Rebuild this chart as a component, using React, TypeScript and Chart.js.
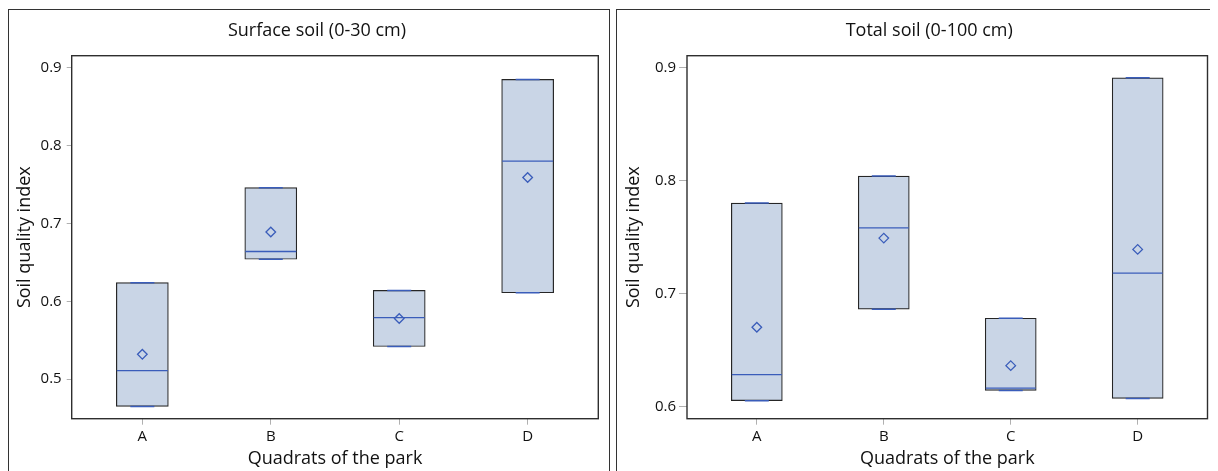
import React, { useEffect, useRef } from "react";
import { Chart, registerables } from "chart.js";

Chart.register(...registerables);

const FONT = "'Open Sans', 'Noto Sans', sans-serif";

const categories = ["A", "B", "C", "D"];
const categoryPositions = [0, 1, 2, 3];

// Surface soil (0-30 cm)
const surfaceQ1 = [0.465, 0.654, 0.542, 0.611];
const surfaceQ3 = [0.624, 0.746, 0.614, 0.885];
const surfaceMedian = [0.511, 0.664, 0.579, 0.78];
const surfaceMean = [0.532, 0.689, 0.578, 0.759];
const surfaceTicks = [0.5, 0.6, 0.7, 0.8, 0.9];

// Total soil (0-100 cm)
const totalQ1 = [0.605, 0.686, 0.614, 0.607];
const totalQ3 = [0.78, 0.804, 0.678, 0.891];
const totalMedian = [0.628, 0.758, 0.616, 0.718];
const totalMean = [0.67, 0.749, 0.636, 0.739];
const totalTicks = [0.6, 0.7, 0.8, 0.9];

const BOX_FILL = "#C9D5E6";
const BOX_EDGE = "#262626";
const BLUE = "#3A5DBA";
const TITLE_SIZE = 18;
const TICK_SIZE = 15;

const framePlugin = {
  id: "frame",
  afterDraw(chart: any) {
    const { ctx, chartArea } = chart;
    const { left, top, right, bottom } = chartArea;
    ctx.save();
    ctx.strokeStyle = "#2e2e2e";
    ctx.lineWidth = 1.4;
    ctx.strokeRect(left, top, right - left, bottom - top);
    ctx.restore();
  },
};

const panelTitlePlugin = {
  id: "panelTitle",
  afterDraw(chart: any, _args: any, opts: any) {
    const { ctx, chartArea } = chart;
    ctx.save();
    ctx.font = `${TITLE_SIZE}px ${FONT}`;
    ctx.fillStyle = "#111";
    ctx.textAlign = "center";
    ctx.textBaseline = "middle";
    ctx.fillText(opts.text, (chartArea.left + chartArea.right) / 2 + opts.dx, opts.y);
    ctx.restore();
  },
};

type PanelProps = {
  title: string;
  q1: number[];
  q3: number[];
  median: number[];
  mean: number[];
  yTicks: number[];
  yMin: number;
  yMax: number;
  width: number;
  height: number;
  yAxisWidth: number;
  padRight: number;
  padTop: number;
  xAxisHeight: number;
  yTickLength: number;
  yTickPadding: number;
  yTitlePad: number;
  boxWidth: number;
  marginLeft: number;
};

function BoxPanel(p: PanelProps) {
  const ref = useRef<HTMLCanvasElement | null>(null);

  useEffect(() => {
    if (!ref.current) return;
    const pts = (vals: number[]) => categoryPositions.map((x, i) => ({ x, y: vals[i] }));
    const chart = new Chart(ref.current, {
      type: "bar",
      data: {
        datasets: [
          {
            type: "scatter",
            label: "Mean",
            data: pts(p.mean),
            pointStyle: "rectRot",
            radius: 4.8,
            borderColor: BLUE,
            backgroundColor: "rgba(0,0,0,0)",
            borderWidth: 1.3,
            order: 0,
          } as any,
          {
            type: "scatter",
            label: "Median",
            data: pts(p.median),
            pointStyle: "line",
            radius: p.boxWidth / 2 - 0.5,
            borderColor: BLUE,
            borderWidth: 1.3,
            order: 1,
          } as any,
          {
            type: "scatter",
            label: "Upper whisker",
            data: pts(p.q3),
            pointStyle: "line",
            radius: 12,
            borderColor: BLUE,
            borderWidth: 1.5,
            order: 1,
          } as any,
          {
            type: "scatter",
            label: "Lower whisker",
            data: pts(p.q1),
            pointStyle: "line",
            radius: 12,
            borderColor: BLUE,
            borderWidth: 1.5,
            order: 1,
          } as any,
          {
            type: "bar",
            label: "IQR box",
            data: categoryPositions.map((x, i) => ({ x, y: [p.q1[i], p.q3[i]] })),
            backgroundColor: BOX_FILL,
            borderColor: BOX_EDGE,
            borderWidth: 1.2,
            borderSkipped: false,
            barThickness: p.boxWidth,
            order: 5,
          } as any,
        ],
      },
      options: {
        animation: false,
        responsive: false,
        maintainAspectRatio: false,
        events: [],
        layout: { autoPadding: false, padding: { left: 0, right: p.padRight, top: p.padTop, bottom: 0 } },
        plugins: {
          legend: { display: false },
          tooltip: { enabled: false },
          title: { display: false },
          panelTitle: { text: p.title, dx: -18, y: 21 },
        } as any,
        scales: {
          x: {
            type: "linear",
            min: -0.55,
            max: 3.55,
            offset: false,
            afterBuildTicks: (s: any) => {
              s.ticks = categoryPositions.map((v) => ({ value: v }));
            },
            afterFit: (s: any) => {
              s.height = p.xAxisHeight;
            },
            ticks: {
              callback: (v: any) => categories[Math.round(Number(v))] ?? "",
              font: { family: FONT, size: TICK_SIZE },
              color: "#111",
              padding: 3,
              maxRotation: 0,
              autoSkip: false,
            },
            grid: { offset: false, drawOnChartArea: false, drawTicks: true, tickLength: 6, color: "#b0b0b0" },
            border: { display: false },
            title: {
              display: true,
              text: "Quadrats of the park",
              font: { family: FONT, size: TITLE_SIZE },
              color: "#111",
              padding: { top: 0, bottom: 1.2 },
            },
          },
          y: {
            type: "linear",
            min: p.yMin,
            max: p.yMax,
            afterBuildTicks: (s: any) => {
              s.ticks = p.yTicks.map((v) => ({ value: v }));
            },
            afterFit: (s: any) => {
              s.width = p.yAxisWidth;
            },
            ticks: {
              callback: (v: any) => Number(v).toFixed(1),
              font: { family: FONT, size: TICK_SIZE },
              color: "#111",
              padding: p.yTickPadding,
            },
            grid: { drawOnChartArea: false, drawTicks: true, tickLength: p.yTickLength, color: "#b0b0b0" },
            border: { display: false },
            title: {
              display: true,
              text: "Soil quality index",
              font: { family: FONT, size: TITLE_SIZE },
              color: "#111",
              padding: { top: p.yTitlePad, bottom: 0 },
            },
          },
        },
      },
      plugins: [framePlugin, panelTitlePlugin],
    });
    return () => chart.destroy();
  }, []);

  return (
    <div
      style={{
        width: p.width,
        height: p.height,
        marginLeft: p.marginLeft,
        borderTop: "1px solid #333",
        borderLeft: "1px solid #333",
        borderRight: "1px solid #333",
        flex: "none",
      }}
    >
      <canvas ref={ref} width={p.width} height={p.height} style={{ display: "block", width: p.width, height: p.height }} />
    </div>
  );
}

export default function App() {
  useEffect(() => {
    document.documentElement.style.overflow = "hidden";
    document.body.style.overflow = "hidden";
  }, []);
  return (
    <div style={{ display: "flex", paddingTop: 1, background: "#fff" }}>
      <BoxPanel
        title="Surface soil (0-30 cm)"
        q1={surfaceQ1}
        q3={surfaceQ3}
        median={surfaceMedian}
        mean={surfaceMean}
        yTicks={surfaceTicks}
        yMin={0.4493}
        yMax={0.9154}
        width={600}
        height={461}
        yAxisWidth={62.7}
        padRight={10.7}
        padTop={45.7}
        xAxisHeight={52.3}
        yTickLength={5}
        yTickPadding={5}
        yTitlePad={4.7}
        boxWidth={52}
        marginLeft={0}
      />
      <BoxPanel
        title="Total soil (0-100 cm)"
        q1={totalQ1}
        q3={totalQ3}
        median={totalMedian}
        mean={totalMean}
        yTicks={totalTicks}
        yMin={0.589}
        yMax={0.9106}
        width={598}
        height={461}
        yAxisWidth={70}
        padRight={7.5}
        padTop={45.7}
        xAxisHeight={52.3}
        yTickLength={8}
        yTickPadding={3}
        yTitlePad={6.2}
        boxWidth={51}
        marginLeft={6}
      />
    </div>
  );
}
